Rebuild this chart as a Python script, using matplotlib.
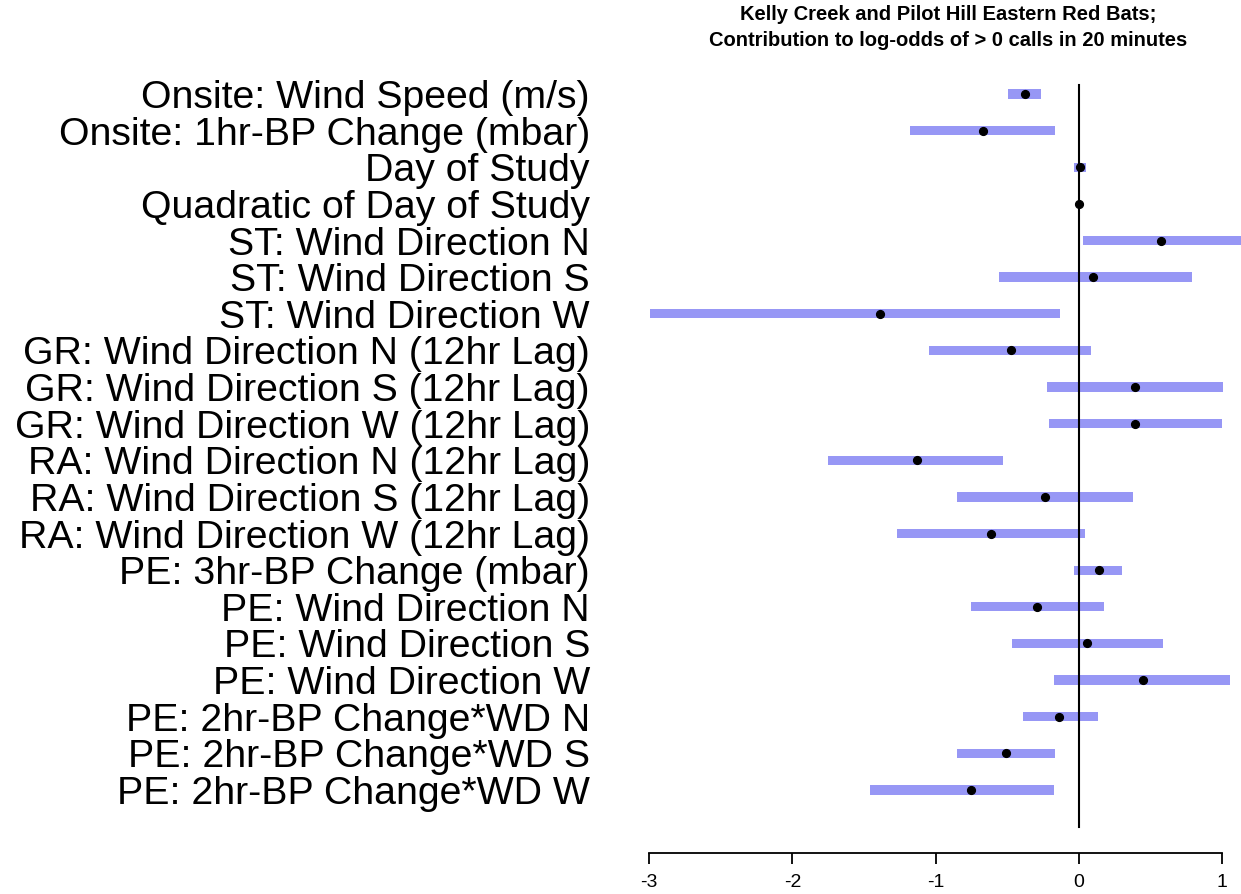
import matplotlib
matplotlib.use("Agg")
import matplotlib.pyplot as plt
import numpy as np

plt.rcParams['font.family'] = ['Liberation Sans', 'DejaVu Sans']
plt.rcParams['axes.unicode_minus'] = False

labels = [
    "Onsite: Wind Speed (m/s)",
    "Onsite: 1hr-BP Change (mbar)",
    "Day of Study",
    "Quadratic of Day of Study",
    "ST: Wind Direction N",
    "ST: Wind Direction S",
    "ST: Wind Direction W",
    "GR: Wind Direction N (12hr Lag)",
    "GR: Wind Direction S (12hr Lag)",
    "GR: Wind Direction W (12hr Lag)",
    "RA: Wind Direction N (12hr Lag)",
    "RA: Wind Direction S (12hr Lag)",
    "RA: Wind Direction W (12hr Lag)",
    "PE: 3hr-BP Change (mbar)",
    "PE: Wind Direction N",
    "PE: Wind Direction S",
    "PE: Wind Direction W",
    "PE: 2hr-BP Change*WD N",
    "PE: 2hr-BP Change*WD S",
    "PE: 2hr-BP Change*WD W",
]

estimate = [-0.378, -0.668, 0.005, 0.000, 0.570, 0.098, -1.387,
            -0.476, 0.389, 0.389, -1.129, -0.240, -0.615, 0.138,
            -0.293, 0.056, 0.444, -0.141, -0.508, -0.756]
lower = [-0.495, -1.176, -0.037, -0.005, 0.027, -0.559, -2.992,
         -1.049, -0.221, -0.208, -1.749, -0.852, -1.272, -0.037,
         -0.753, -0.468, -0.176, -0.391, -0.852, -1.456]
upper = [-0.264, -0.170, 0.048, 0.005, 1.200, 0.785, -0.133,
         0.085, 1.003, 0.995, -0.527, 0.378, 0.040, 0.298,
         0.173, 0.586, 1.051, 0.130, -0.168, -0.178]

x_ticks = [-3, -2, -1, 0, 1]

fig = plt.figure(figsize=(12.41, 8.94), dpi=100)
ax = fig.add_axes([640 / 1241, 0, 1 - 640 / 1241, 1 - 60 / 894])

pos = np.arange(1, len(labels) + 1)
lo = np.array(lower)
hi = np.array(upper)

# confidence intervals as thick bands, point estimates as dots
ax.barh(pos, hi - lo, left=lo, height=0.254, color='#9797F5', edgecolor='none', zorder=1)
ax.plot([0, 0], [0.75, 21.0], color='black', lw=1.5, zorder=2)
ax.plot(estimate, pos, 'o', color='black', markersize=5.6, zorder=3)

ax.set_xlim(-3.063, 1.130)
ax.set_ylim(22.84, 0.072)

ax.set_yticks(pos)
ax.set_yticklabels(labels)
ax.tick_params(axis='y', length=0, pad=36, labelsize=28.3)

ax.set_xticks(x_ticks)
ax.set_xticklabels([str(t) for t in x_ticks])
ax.tick_params(axis='x', length=8, width=1.3, pad=7, direction='out', labelsize=14)

for s in ['left', 'right', 'top']:
    ax.spines[s].set_visible(False)
ax.spines['bottom'].set_position(('data', 21.73))
ax.spines['bottom'].set_bounds(-3, 1)
ax.spines['bottom'].set_linewidth(1.3)
ax.patch.set_alpha(0)

fig.text(948 / 1241, 1 - 5 / 894,
         "Kelly Creek and Pilot Hill Eastern Red Bats;\nContribution to log-odds of > 0 calls in 20 minutes",
         ha='center', va='top', fontsize=14.5, fontweight='bold', linespacing=1.5)

fig.savefig("out.png", dpi=100)
